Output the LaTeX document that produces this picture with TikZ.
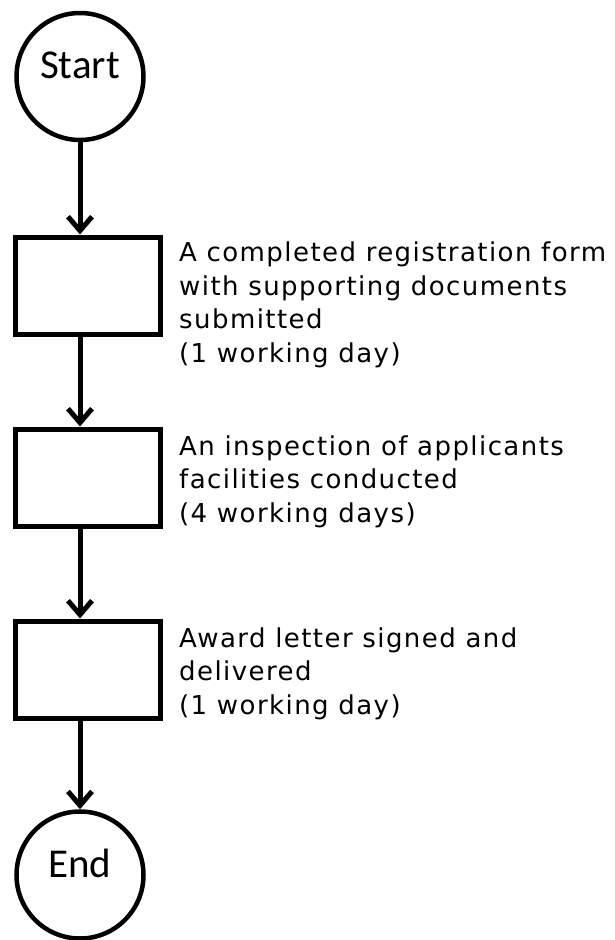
\documentclass[tikz,border=0pt]{standalone}
\usepackage{fontspec}
\setmainfont{DejaVu Sans}[LetterSpace=5.5]
\newfontfamily\circfont{Carlito}
\usetikzlibrary{arrows.meta}
\tikzset{
  circ/.style={circle, draw, line width=4.5pt, minimum size=127pt, inner sep=0pt,
    font=\circfont\fontsize{41}{41}\selectfont, text height=10pt, text depth=6pt},
  stepbox/.style={rectangle, draw, line width=5pt, minimum width=145pt, minimum height=97pt, inner sep=0pt},
  desc/.style={anchor=base west, inner sep=0pt, align=left,
    font=\fontsize{26}{33.5}\selectfont},
  arr/.style={line width=5pt, -{Straight Barb[length=14pt,width=24pt]}}
}
\begin{document}
\begin{tikzpicture}[x=1pt,y=-1pt]
\useasboundingbox[fill=white] (0,0) rectangle (615,940);
\node[circ] (start) at (80,76.5) {Start};
\node[stepbox] (b1) at (87.5,285.5) {};
\node[stepbox] (b2) at (87.5,477.5) {};
\node[stepbox] (b3) at (87.5,669.5) {};
\node[circ] (end) at (80,875) {End};
\node[desc] (t1) at (179,362) {A completed registration form\\with supporting documents\\submitted\\(1 working day)};
\node[desc] (t2) at (179,522) {An inspection of applicants\\facilities conducted\\(4 working days)};
\node[desc] (t3) at (179,714) {Award letter signed and\\delivered\\(1 working day)};
\draw[arr] (start.south) -- (start.south |- b1.north);
\draw[arr] (b1.south -| start.south) -- (b2.north -| start.south);
\draw[arr] (b2.south -| start.south) -- (b3.north -| start.south);
\draw[arr] (b3.south -| end.north) -- (end.north);
\end{tikzpicture}
\end{document}
